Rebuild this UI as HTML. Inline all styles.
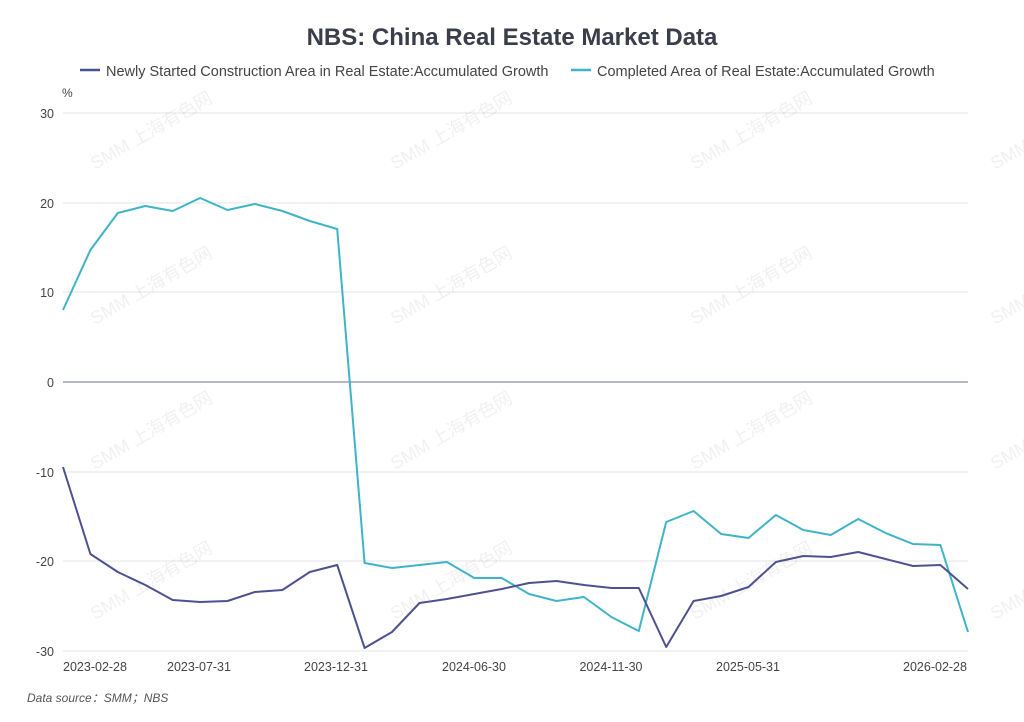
<!DOCTYPE html>
<html><head><meta charset="utf-8"><style>
body{margin:0;background:#fff;}
svg{display:block;font-family:"Liberation Sans","Noto Sans CJK SC",sans-serif;}
</style></head><body>
<svg width="1024" height="722" xmlns="http://www.w3.org/2000/svg">
<text x="512" y="45" text-anchor="middle" font-size="24" font-weight="bold" fill="#3a3d4a">NBS: China Real Estate Market Data</text>
<line x1="80" y1="70" x2="100" y2="70" stroke="#4e5190" stroke-width="2.5"/>
<text x="106" y="76" font-size="14.5" fill="#444">Newly Started Construction Area in Real Estate:Accumulated Growth</text>
<line x1="571" y1="70" x2="591" y2="70" stroke="#3fb4c8" stroke-width="2.5"/>
<text x="597" y="76" font-size="14.5" fill="#444">Completed Area of Real Estate:Accumulated Growth</text>
<text x="62" y="97" font-size="12" fill="#444">%</text>
<g stroke="#e6e6e6" stroke-width="1">
<line x1="63" y1="113" x2="968" y2="113"/><line x1="63" y1="203" x2="968" y2="203"/>
<line x1="63" y1="292" x2="968" y2="292"/><line x1="63" y1="472" x2="968" y2="472"/>
<line x1="63" y1="561" x2="968" y2="561"/><line x1="63" y1="651" x2="968" y2="651"/>
</g>
<line x1="63" y1="382" x2="968" y2="382" stroke="#6e7090" stroke-width="1"/>
<g font-size="12.5" fill="#444" text-anchor="end">
<text x="54" y="118">30</text><text x="54" y="208">20</text><text x="54" y="297">10</text>
<text x="54" y="387">0</text><text x="54" y="477">-10</text><text x="54" y="566">-20</text><text x="54" y="656">-30</text>
</g>
<g font-size="12.5" fill="#444" text-anchor="middle">
<text x="95" y="671">2023-02-28</text><text x="199" y="671">2023-07-31</text><text x="336" y="671">2023-12-31</text>
<text x="474" y="671">2024-06-30</text><text x="611" y="671">2024-11-30</text><text x="748" y="671">2025-05-31</text>
<text x="935" y="671">2026-02-28</text>
</g>
<g font-size="18" fill="#000" fill-opacity="0.06">
<text transform="translate(95,170) rotate(-30)">SMM 上海有色网</text>
<text transform="translate(395,170) rotate(-30)">SMM 上海有色网</text>
<text transform="translate(695,170) rotate(-30)">SMM 上海有色网</text>
<text transform="translate(995,170) rotate(-30)">SMM 上海有色网</text>
<text transform="translate(95,325) rotate(-30)">SMM 上海有色网</text>
<text transform="translate(395,325) rotate(-30)">SMM 上海有色网</text>
<text transform="translate(695,325) rotate(-30)">SMM 上海有色网</text>
<text transform="translate(995,325) rotate(-30)">SMM 上海有色网</text>
<text transform="translate(95,470) rotate(-30)">SMM 上海有色网</text>
<text transform="translate(395,470) rotate(-30)">SMM 上海有色网</text>
<text transform="translate(695,470) rotate(-30)">SMM 上海有色网</text>
<text transform="translate(995,470) rotate(-30)">SMM 上海有色网</text>
<text transform="translate(95,620) rotate(-30)">SMM 上海有色网</text>
<text transform="translate(395,620) rotate(-30)">SMM 上海有色网</text>
<text transform="translate(695,620) rotate(-30)">SMM 上海有色网</text>
<text transform="translate(995,620) rotate(-30)">SMM 上海有色网</text>
</g>
<polyline fill="none" stroke="#3fb4c8" stroke-width="2" stroke-linejoin="round" points="63,310 90.4,250 117.8,213 145.3,206 172.7,211 200.1,198 227.5,210 254.9,204 282.4,211 309.8,221 337.2,229 364.6,563 392,568 419.5,565 446.9,562 474.3,578 501.7,578 529.1,594 556.5,601 584,597 611.4,617 638.8,631 666.2,522 693.6,511 721.1,534 748.5,538 775.9,515 803.3,530 830.7,535 858.2,519 885.6,533 913,544 940.4,545 968,632"/>
<polyline fill="none" stroke="#4e5190" stroke-width="2" stroke-linejoin="round" points="63,467 90.4,554 117.8,572 145.3,585 172.7,600 200.1,602 227.5,601 254.9,592 282.4,590 309.8,572 337.2,565 364.6,648 392,632 419.5,603 446.9,599 474.3,594 501.7,589 529.1,583 556.5,581 584,585 611.4,588 638.8,588 666.2,647 693.6,601 721.1,596 748.5,587 775.9,562 803.3,556 830.7,557 858.2,552 885.6,559 913,566 940.4,565 968,589"/>
<text x="27" y="702" font-size="12" font-style="italic" fill="#555">Data source：SMM；NBS</text>
</svg>
</body></html>
